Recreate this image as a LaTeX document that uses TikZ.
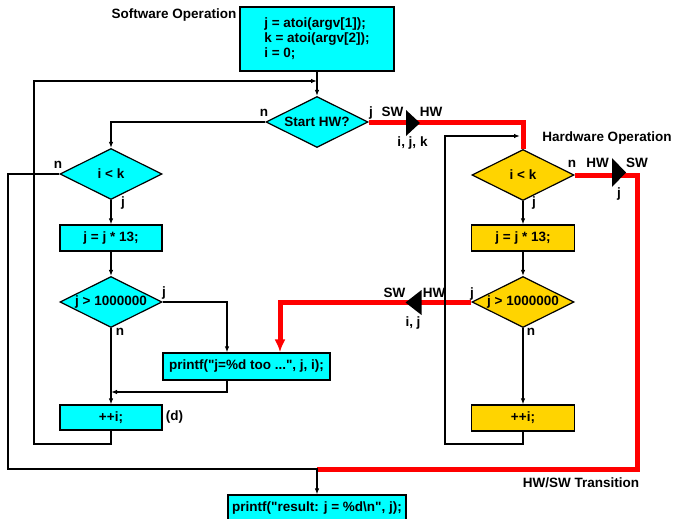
\documentclass[tikz,border=0pt]{standalone}
\usepackage{fontspec}
\setmainfont{Liberation Sans}
\usetikzlibrary{shapes.geometric,positioning,arrows.meta}
\definecolor{swcyan}{RGB}{0,255,255}
\definecolor{hwgold}{RGB}{255,212,0}
\definecolor{hwsw}{RGB}{255,0,0}
\tikzset{
  base/.style={draw=black, line width=1.2pt, inner sep=0pt,
    font=\bfseries\fontsize{13.5}{15}\selectfont},
  swbox/.style={base, rectangle, fill=swcyan,
    minimum width=102pt, minimum height=26pt},
  hwbox/.style={swbox, fill=hwgold, minimum width=103pt},
  swdec/.style={base, diamond, aspect=2, fill=swcyan,
    minimum width=102pt, minimum height=51pt},
  hwdec/.style={swdec, fill=hwgold},
  lbl/.style={font=\bfseries\fontsize{13.5}{15}\selectfont, inner sep=0pt}
}
\tikzset{
  flow/.style={draw=black, line width=1.8pt, ->},
  thinflow/.style={draw=black, line width=1.1pt, ->},
  trans/.style={draw=hwsw, line width=5pt},
  gate/.style={fill=black}
}

\begin{document}
\begin{tikzpicture}[x=1pt,y=-1pt,>={Latex[length=6pt,width=4.5pt]}]
\useasboundingbox (0,0) rectangle (675,519);

% software side
\node[lbl] (swtitle) at (174,15) {Software Operation};
\node[swbox, minimum width=154pt, minimum height=64pt, align=left]
  (init) at (317,39) {j = atoi(argv[1]);\\k = atoi(argv[2]);\\i = 0;};
\node[swdec] (starthw) at (317,122) {Start HW?};
\node[swdec] (swcmp) at (111,174) {i < k};
\node[swbox] (swmul) at (111,238) {j = j * 13;};
\node[swdec] (swtest) at (111,302) {j > 1000000};
\node[swbox, minimum width=167pt, minimum height=27pt]
  (toobig) at (246.5,366.5)
  {printf(\textquotedbl j=\%d too ...\textquotedbl, j, i);};
\node[swbox, minimum height=25pt] (swinc) at (111,417.5) {++i;};
\node[swbox, minimum width=178pt]
  (result) at (317,508)
  {printf(\textquotedbl result: j = \%d\textbackslash n\textquotedbl, j);};

% hardware side
\node[lbl] (hwtitle) at (607,138) {Hardware Operation};
\node[hwdec] (hwcmp) at (523,175) {i < k};
\node[hwbox] (hwmul) at (523,238) {j = j * 13;};
\node[hwdec] (hwtest) at (523,302) {j > 1000000};
\node[hwbox] (hwinc) at (523,418) {++i;};
\node[lbl] (transtitle) at (581,483) {HW/SW Transition};

% branch labels
\node[lbl] (shn) at (264,113) {n};
\node[lbl] (shj) at (371,113) {j};
\node[lbl] (scn) at (58,165) {n};
\node[lbl] (scj) at (123,203) {j};
\node[lbl] (stj) at (164,293) {j};
\node[lbl] (stn) at (120,332) {n};
\node[lbl] (dmark) at (174.5,417) {(d)};
\node[lbl] (hcn) at (572,164) {n};
\node[lbl] (hcj) at (534,203) {j};
\node[lbl] (htj) at (472,294) {j};
\node[lbl] (htn) at (531,332) {n};

% transition labels
\node[lbl] (g1sw) at (392.5,112) {SW};
\node[lbl] (g1hw) at (431,112) {HW};
\node[lbl] (g1var) at (412.5,143) {i, j, k};
\node[lbl] (g2hw) at (597.5,163) {HW};
\node[lbl] (g2sw) at (637,163) {SW};
\node[lbl] (g2var) at (619,194) {j};
\node[lbl] (g3sw) at (394.5,293) {SW};
\node[lbl] (g3hw) at (434,293) {HW};
\node[lbl] (g3var) at (413,323) {i, j};

\coordinate (swjoin) at (317,81);
\coordinate (swback) at (34,444);
\coordinate (swmerge) at (111,392);
\coordinate (swexit) at (8,469);
\coordinate (hwjoin) at (520,136);
\coordinate (hwback) at (445,444);
\coordinate (hwexit) at (637,469);

% red transitions
\draw[trans] (starthw.east) -| (hwcmp.north);
\draw[trans] (hwcmp.east) -| (hwexit) -- (hwexit -| result.north);
\draw[trans, -{Latex[length=13pt,width=11pt]}]
  (hwtest.west) -| ([xshift=33.5pt]toobig.north);

\coordinate (gate1) at (413,123);
\coordinate (gate2) at (619,172.5);
\coordinate (gate3) at (413.5,302.5);
\fill[gate] (gate1) +(-7,-13) -- +(7,0) -- +(-7,13) -- cycle;
\fill[gate] (gate2) +(-7,-14.5) -- +(7,0) -- +(-7,14.5) -- cycle;
\fill[gate] (gate3) +(8,-12.5) -- +(-8,0) -- +(8,12.5) -- cycle;

% software flow
\draw[flow] (init.south) -- (starthw.north);
\draw[flow] (swinc.south) |- (swback) |- (swjoin);
\draw[flow] (starthw.west) -| (swcmp.north);
\draw[flow] (swcmp.south) -- (swmul.north);
\draw[flow] (swmul.south) -- (swtest.north);
\draw[flow] (swtest.south) -- (swinc.north);
\draw[flow] (swtest.east) -| ([xshift=-19.5pt]toobig.north);
\draw[thinflow] ([xshift=-19.5pt]toobig.south) |- (swmerge);
\draw[thinflow] (swcmp.west) -| (swexit) -| (result.north);

% hardware flow
\draw[flow] (hwcmp.south) -- (hwmul.north);
\draw[flow] (hwmul.south) -- (hwtest.north);
\draw[flow] (hwtest.south) -- (hwinc.north);
\draw[flow] (hwinc.south) |- (hwback) |- (hwjoin);
\end{tikzpicture}
\end{document}
